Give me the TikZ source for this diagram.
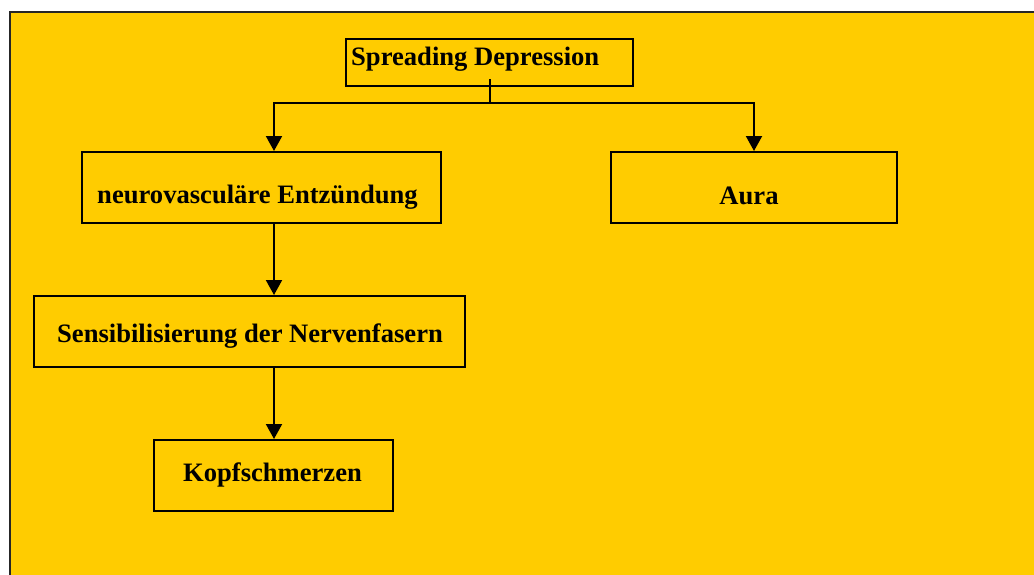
\documentclass[tikz,border=0pt]{standalone}
\usepackage{fontspec}
\setmainfont{Liberation Serif}
\usetikzlibrary{arrows.meta}
\definecolor{bgyellow}{HTML}{FFCC00}
\tikzset{
  box/.style={draw=black, line width=2pt, inner sep=0pt},
  lbl/.style={font=\fontsize{26.6}{30}\selectfont\bfseries, inner sep=0pt, anchor=base},
  conn/.style={draw=black, line width=2pt},
  arr/.style={conn, -{Triangle[width=16pt,length=15pt]}},
}
\begin{document}
\begin{tikzpicture}[x=1pt,y=-1pt]
\useasboundingbox (0,0) rectangle (1034,574);
\clip (0,0) rectangle (1034,574);
\fill[white] (0,0) rectangle (1034,574);
\draw[fill=bgyellow, draw=black!85, line width=1.5pt] (10,12) rectangle (1040,580);

\node[box, minimum width=287pt, minimum height=47pt] (sd) at (489.5,62.5) {};
\node[lbl, anchor=base west] (sdt) at (351,65) {Spreading Depression};

\node[box, minimum width=359pt, minimum height=71pt] (neuro) at (261.5,187.5) {};
\node[lbl] (neurot) at (257.5,203) {neurovasculäre Entzündung};

\node[box, minimum width=286pt, minimum height=71pt] (aura) at (754,187.5) {};
\node[lbl] (aurat) at (749,204) {Aura};

\node[box, minimum width=431pt, minimum height=71pt] (sens) at (249.5,331.5) {};
\node[lbl] (senst) at (250,342) {Sensibilisierung der Nervenfasern};

\node[box, minimum width=239pt, minimum height=71pt] (kopf) at (273.5,475.5) {};
\node[lbl] (kopft) at (272.5,481) {Kopfschmerzen};

\coordinate (stemtop) at (490,79);
\coordinate (split) at (490,103);
\coordinate (nin) at (274,151);
\coordinate (nout) at (274,224);
\coordinate (sin) at (274,295);
\coordinate (sout) at (274,368);
\coordinate (kin) at (274,439);

\draw[conn] (stemtop) -- (split);
\draw[arr] (split) -| (nin);
\draw[arr] (split) -| (aura.north);
\draw[arr] (nout) -- (sin);
\draw[arr] (sout) -- (kin);
\end{tikzpicture}
\end{document}
